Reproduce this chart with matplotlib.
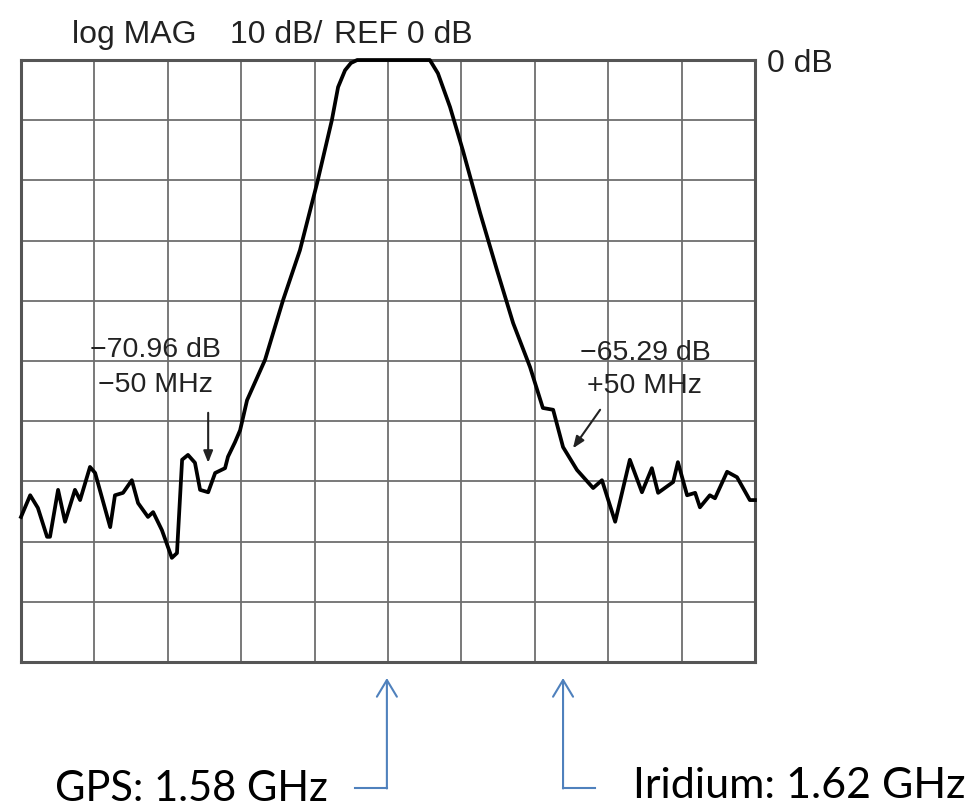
import matplotlib
matplotlib.use("Agg")
import matplotlib.pyplot as plt

# trace: frequency (MHz) and level (dB)
freq = [1480.0, 1482.5, 1484.6, 1487.1, 1487.9, 1490.1, 1492.0, 1494.7, 1496.1, 1498.8,
        1500.2, 1504.3, 1505.6, 1507.8, 1510.2, 1511.9, 1514.6, 1516.0, 1518.4, 1521.1,
        1522.5, 1523.9, 1525.5, 1527.4, 1528.8, 1531.0, 1532.9, 1535.6, 1536.4, 1538.3,
        1539.7, 1541.6, 1546.5, 1551.4, 1556.0, 1560.7, 1564.7, 1566.4, 1568.3, 1569.9,
        1571.6, 1591.4, 1593.6, 1596.9, 1600.4, 1605.1, 1609.7, 1614.1, 1618.7, 1622.2,
        1625.0, 1627.7, 1631.5, 1635.9, 1638.3, 1641.9, 1645.9, 1649.2, 1651.9, 1653.6,
        1657.7, 1659.0, 1661.5, 1663.7, 1665.0, 1667.7, 1669.1, 1672.4, 1675.1, 1678.6,
        1680.0]
level = [-75.9, -72.3, -74.4, -79.2, -79.2, -71.4, -76.7, -71.4, -73.1, -67.6,
         -68.6, -77.6, -72.3, -71.9, -69.8, -73.6, -75.9, -75.1, -78.1, -82.7,
         -81.9, -66.4, -65.6, -66.9, -71.4, -71.8, -68.6, -67.8, -65.9, -63.5,
         -61.5, -56.5, -49.8, -39.9, -31.6, -20.4, -10.0, -4.5, -1.7, -0.5,
         0.0, 0.0, -2.2, -7.8, -15.0, -25.4, -34.9, -43.7, -51.0, -57.8,
         -58.1, -64.3, -68.1, -71.1, -69.8, -76.7, -66.4, -71.8, -67.8, -71.9,
         -70.1, -66.8, -72.3, -71.9, -74.3, -72.3, -72.8, -68.4, -69.3, -73.1,
         -73.1]

# markers
mk_left = (1531.0, "\u221270.96 dB", "\u221250 MHz")
mk_right = (1630.4, "\u221265.29 dB", "+50 MHz")

# band labels below the screen
gps_f, gps_txt = 1579.7, "GPS: 1.58 GHz"
iri_f, iri_txt = 1627.7, "Iridium: 1.62 GHz"

fig = plt.figure(figsize=(9.71, 8.09), dpi=100)
ax = fig.add_axes([0.02163, 0.1817, 0.7559, 0.7441])
ax.set_xlim(1480, 1680)
ax.set_ylim(-100, 0)
ax.set_xticks(range(1480, 1681, 20))
ax.set_yticks(range(-100, 1, 10))
ax.tick_params(length=0, labelbottom=False, labelleft=False)
ax.grid(True, color="#6e6e6e", lw=1.3)
for s in ax.spines.values():
    s.set_color("#555555")
    s.set_linewidth(2.2)

ax.plot(freq, level, color="black", lw=2.7, clip_on=False, zorder=5,
        solid_joinstyle="round")

tf = "Liberation Sans"
txtc = "#222222"
# header
fig.text(72 / 971, 1 - 43 / 809, "log MAG", fontsize=23, family=tf, color=txtc)
fig.text(230 / 971, 1 - 43 / 809, "10 dB/", fontsize=23, family=tf, color=txtc)
fig.text(334 / 971, 1 - 43 / 809, "REF 0 dB", fontsize=23, family=tf, color=txtc)
fig.text(767 / 971, 1 - 72 / 809, "0 dB", fontsize=23, family=tf, color=txtc)

# marker readouts
ax.text(1516.5, -49.3, mk_left[1], ha="center", fontsize=20.5, family=tf, color=txtc)
ax.text(1516.5, -55.1, mk_left[2], ha="center", fontsize=20.5, family=tf, color=txtc)
ax.text(1650.0, -49.8, mk_right[1], ha="center", fontsize=20.5, family=tf, color=txtc)
ax.text(1650.0, -55.3, mk_right[2], ha="center", fontsize=20.5, family=tf, color=txtc)
ax.annotate("", xy=(mk_left[0], -66.9), xytext=(mk_left[0], -58.6),
            arrowprops=dict(arrowstyle="-|>,head_length=0.7,head_width=0.28",
                            color="#222222", lw=1.5, shrinkA=0, shrinkB=0))
ax.annotate("", xy=(mk_right[0], -64.5), xytext=(1637.8, -58.1),
            arrowprops=dict(arrowstyle="-|>,head_length=0.7,head_width=0.28",
                            color="#222222", lw=1.5, shrinkA=0, shrinkB=0))

# GPS / Iridium pointers
blue = "#4f81bd"
tr = ax.get_xaxis_transform()
for f, tail in [(gps_f, 1571.0), (iri_f, 1636.4)]:
    ax.plot([tail, f], [-0.2101, -0.2101], color=blue, lw=1.5, transform=tr, clip_on=False)
    ax.annotate("", xy=(f, -0.0266), xytext=(f, -0.2101), xycoords=tr, textcoords=tr,
                arrowprops=dict(arrowstyle="->,head_length=0.6,head_width=0.36",
                                color=blue, lw=1.5, mutation_scale=20,
                                shrinkA=0, shrinkB=0))
ax.text(1563.7, -0.2310, gps_txt, transform=tr, ha="right", va="baseline",
        fontsize=30, family="Lato", color="black")
ax.text(1646.8, -0.2260, iri_txt, transform=tr, ha="left", va="baseline",
        fontsize=31, family="Lato", color="black")

fig.savefig("out.png", dpi=100)
